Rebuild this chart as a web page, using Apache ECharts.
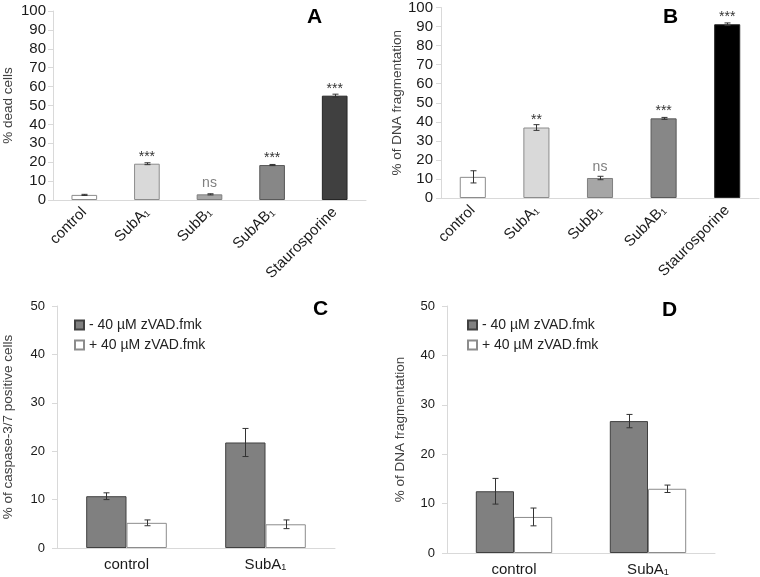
<!DOCTYPE html>
<html>
<head>
<meta charset="utf-8">
<script src="https://cdn.jsdelivr.net/npm/echarts@6/dist/echarts.min.js"></script>
<style>
    html, body { margin: 0; padding: 0; background: #fff; }
    #chart { width: 760px; height: 577px; }
</style>
</head>
<body>
<div id="chart"></div>
<script>
// top panels (A, B)
const topCategories = ['control', 'SubA₁', 'SubB₁', 'SubAB₁', 'Staurosporine'];
const deadCells = [2.7, 19.2, 3.0, 18.5, 55.2];
const deadCellsErr = [0.3, 0.5, 0.3, 0.3, 0.8];
const deadCellsSig = ['', '***', 'ns', '***', '***'];
const dnaFrag = [11.1, 37.0, 10.5, 41.8, 91.2];
const dnaFragErr = [3.2, 1.5, 0.9, 0.5, 0.7];
const dnaFragSig = ['', '**', 'ns', '***', '***'];
const topTicks = [0, 10, 20, 30, 40, 50, 60, 70, 80, 90, 100];

// bottom panels (C, D)
const bottomCategories = ['control', 'SubA₁'];
const legendNames = ['- 40 µM zVAD.fmk', '+ 40 µM zVAD.fmk'];
const caspMinus = [10.7, 21.8];
const caspMinusErr = [0.7, 2.9];
const caspPlus = [5.2, 4.9];
const caspPlusErr = [0.6, 0.9];
const fragMinus = [12.5, 26.7];
const fragMinusErr = [2.6, 1.35];
const fragPlus = [7.3, 13.0];
const fragPlusErr = [1.8, 0.75];
const bottomTicks = [0, 10, 20, 30, 40, 50];

const colorsA = ['#ffffff', '#d9d9d9', '#a6a6a6', '#878787', '#404040'];
const colorsB = ['#ffffff', '#d9d9d9', '#a6a6a6', '#878787', '#000000'];
const bordersTop = ['#8c8c8c', '#8c8c8c', '#7f7f7f', '#595959', '#262626'];

const font = 'Liberation Sans, Arial, sans-serif';
const axisGrey = '#d9d9d9';

function sigLabel(sig) {
    return {
        show: true,
        position: 'top',
        distance: 0,
        formatter: function (p) {
            let s = sig[p.dataIndex];
            if (!s) return '';
            return s === 'ns' ? '{n|ns}' : '{s|' + s + '}';
        },
        rich: {
            s: { fontSize: 14, color: '#333', fontFamily: font },
            n: { fontSize: 14, color: '#7f7f7f', fontFamily: font, padding: [0, 0, 4, 0] }
        }
    };
}

function topBars(idx, values, colors, sig) {
    return {
        type: 'bar',
        xAxisIndex: idx,
        yAxisIndex: idx,
        barWidth: '41%',
        data: values.map(function (v, i) {
            return { value: v, itemStyle: { color: colors[i], borderColor: bordersTop[i], borderWidth: 1 } };
        }),
        label: sigLabel(sig)
    };
}

// error bars drawn through the axis scales
function errorBars(idx, values, errors, shift) {
    return {
        type: 'custom',
        xAxisIndex: idx,
        yAxisIndex: idx,
        silent: true,
        z: 10,
        encode: { x: 0, y: [1, 2] },
        data: values.map(function (v, i) { return [i, v - errors[i], v + errors[i]]; }),
        renderItem: function (params, api) {
            let band = api.size([1, 0])[0];
            let lo = api.coord([api.value(0), api.value(1)]);
            let hi = api.coord([api.value(0), api.value(2)]);
            let x = Math.round(lo[0] + shift * band) + 0.5;
            let style = { stroke: '#333', lineWidth: 1 };
            return {
                type: 'group',
                children: [
                    { type: 'line', shape: { x1: x, y1: lo[1], x2: x, y2: hi[1] }, style: style },
                    { type: 'line', shape: { x1: x - 3, y1: lo[1], x2: x + 3, y2: lo[1] }, style: style },
                    { type: 'line', shape: { x1: x - 3, y1: hi[1], x2: x + 3, y2: hi[1] }, style: style }
                ]
            };
        }
    };
}

function groupBars(idx, name, values, color, border, gap) {
    return {
        type: 'bar',
        name: name,
        xAxisIndex: idx,
        yAxisIndex: idx,
        barGap: 0,
        barCategoryGap: gap,
        itemStyle: { color: color, borderColor: border, borderWidth: 1 },
        data: values
    };
}

function yAxis(idx, ticks, title, gap, fontSize, margin) {
    return {
        gridIndex: idx,
        type: 'value',
        min: ticks[0],
        max: ticks[ticks.length - 1],
        interval: ticks[1] - ticks[0],
        name: title,
        nameLocation: 'middle',
        nameGap: gap,
        nameTextStyle: { fontSize: 13.5, color: '#404040', fontFamily: font },
        axisLine: { show: true, lineStyle: { color: axisGrey } },
        axisTick: { show: true, length: 5, lineStyle: { color: axisGrey } },
        splitLine: { show: false },
        axisLabel: { fontSize: fontSize, color: '#1a1a1a', fontFamily: font, margin: margin }
    };
}

function xAxis(idx, cats, rotate, fontSize) {
    return {
        gridIndex: idx,
        type: 'category',
        data: cats,
        axisLine: { lineStyle: { color: axisGrey } },
        axisTick: { length: 5, lineStyle: { color: axisGrey } },
        axisLabel: { rotate: rotate, fontSize: fontSize, color: '#1a1a1a', fontFamily: font, margin: rotate ? 10 : 9, interval: 0 }
    };
}

function letter(text, left, top) {
    return { text: text, left: left, top: top, textStyle: { fontSize: 21, fontWeight: 'bold', color: '#000', fontFamily: font } };
}

function legend(left) {
    return {
        data: legendNames,
        orient: 'vertical',
        left: left,
        top: 313,
        icon: 'rect',
        itemWidth: 9,
        itemHeight: 9,
        itemGap: 6,
        textStyle: { fontSize: 14, color: '#222', fontFamily: font, lineHeight: 14 }
    };
}

let chart = echarts.init(document.getElementById('chart'));
let option = {
    animation: false,
    backgroundColor: '#fff',
    textStyle: { fontFamily: font },
    title: [letter('A', 302, 2), letter('B', 658, 2), letter('C', 308, 294), letter('D', 657, 295)],
    legend: [legend(69), legend(462)],
    grid: [
        { left: 50, top: 11, width: 316, height: 189 },
        { left: 441, top: 7, width: 318, height: 191 },
        { left: 53, top: 306, width: 282, height: 242 },
        { left: 447, top: 306, width: 268, height: 247 }
    ],
    xAxis: [
        xAxis(0, topCategories, 45, 15),
        xAxis(1, topCategories, 45, 15),
        xAxis(2, bottomCategories, 0, 15),
        xAxis(3, bottomCategories, 0, 15)
    ],
    yAxis: [
        yAxis(0, topTicks, '% dead cells', 38, 15, 7),
        yAxis(1, topTicks, '% of DNA fragmentation', 37, 15, 8),
        yAxis(2, bottomTicks, '% of caspase-3/7 positive cells', 42, 13, 12),
        yAxis(3, bottomTicks, '% of DNA fragmentation', 40, 13, 12)
    ],
    series: [
        topBars(0, deadCells, colorsA, deadCellsSig),
        errorBars(0, deadCells, deadCellsErr, 0),
        topBars(1, dnaFrag, colorsB, dnaFragSig),
        errorBars(1, dnaFrag, dnaFragErr, 0),

        groupBars(2, legendNames[0], caspMinus, '#808080', '#404040', '42%'),
        groupBars(2, legendNames[1], caspPlus, '#ffffff', '#8c8c8c', '42%'),
        errorBars(2, caspMinus, caspMinusErr, -0.145),
        errorBars(2, caspPlus, caspPlusErr, 0.145),

        groupBars(3, legendNames[0], fragMinus, '#808080', '#404040', '43%'),
        groupBars(3, legendNames[1], fragPlus, '#ffffff', '#8c8c8c', '43%'),
        errorBars(3, fragMinus, fragMinusErr, -0.1425),
        errorBars(3, fragPlus, fragPlusErr, 0.1425)
    ]
};
chart.setOption(option);
</script>
</body>
</html>
